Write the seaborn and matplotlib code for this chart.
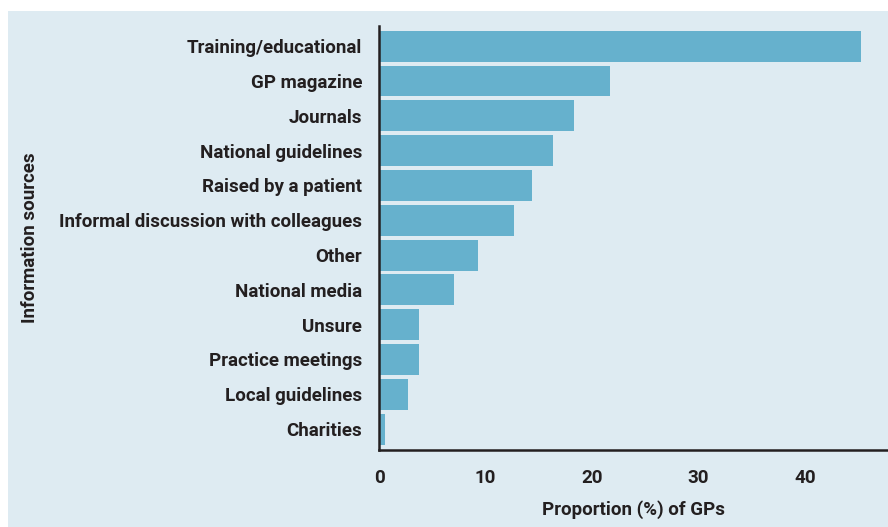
import pandas as pd
import matplotlib.pyplot as plt
import seaborn as sns
from matplotlib.patches import Rectangle

# Survey answers: where GPs heard about the topic
sources = ['Training/educational', 'GP magazine', 'Journals', 'National guidelines',
           'Raised by a patient', 'Informal discussion with colleagues', 'Other',
           'National media', 'Unsure', 'Practice meetings', 'Local guidelines', 'Charities']
proportions = [45.3, 21.7, 18.3, 16.3, 14.4, 12.7, 9.3, 7.0, 3.8, 3.8, 2.7, 0.6]
x_ticks = [0, 10, 20, 30, 40]

df = pd.DataFrame({'Source': sources, 'Proportion': proportions})

bg = '#deebf2'
bar_color = '#66b1cd'
ink = '#231f20'
fs = 13.5

sns.set_style('white')
plt.rcParams['font.family'] = ['Roboto', 'DejaVu Sans']
plt.rcParams['font.weight'] = 'bold'

fig = plt.figure(figsize=(8.88, 5.27), dpi=100)
fig.patch.set_facecolor('white')
# light blue panel behind the chart
fig.patches.append(Rectangle((8 / 888, 0), 1, 1 - 11 / 527, transform=fig.transFigure,
                             facecolor=bg, edgecolor='none', zorder=-10))

ax = fig.add_axes([379 / 888, 1 - 450 / 527, 1 - 379 / 888, (450 - 26) / 527])
ax.set_facecolor('none')
ax.set_zorder(5)

sns.barplot(data=df, x='Proportion', y='Source', orient='h', color=bar_color,
            saturation=1, width=0.89, linewidth=0, ax=ax)

ax.set_xlim(0, 47.8)
ax.set_ylim(11.6, -0.58)
ax.set_xticks(x_ticks)

for side in ['top', 'right']:
    ax.spines[side].set_visible(False)
for side in ['left', 'bottom']:
    ax.spines[side].set_color(ink)
    ax.spines[side].set_linewidth(1.8)

ax.tick_params(axis='both', which='major', direction='out', length=5, width=1.8,
               color=ink, labelcolor=ink, labelsize=fs)
ax.tick_params(axis='y', pad=7)
ax.tick_params(axis='x', pad=9)
for lab in ax.get_xticklabels() + ax.get_yticklabels():
    lab.set_fontweight('bold')

ax.set_xlabel('Proportion (%) of GPs', fontsize=fs, fontweight='bold', color=ink, labelpad=9)
ax.set_ylabel('')
fig.text(30 / 888, 1 - 238 / 527, 'Information sources', rotation=90, ha='center', va='center',
         fontsize=fs, fontweight='bold', color=ink)

fig.savefig('out.png', dpi=100)
